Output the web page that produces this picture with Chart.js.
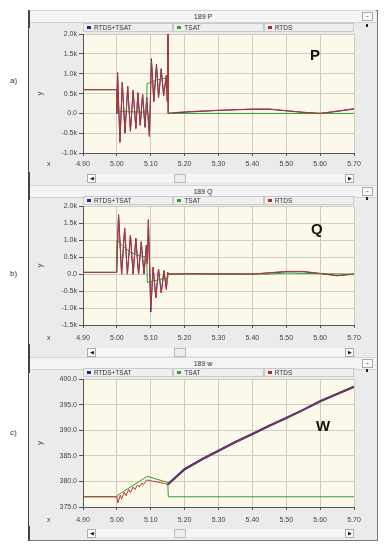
<!DOCTYPE html>
<html>
<head>
<meta charset="utf-8">
<script src="https://cdn.jsdelivr.net/npm/chart.js@4.4.0/dist/chart.umd.min.js"></script>
<style>
  body { margin: 0; width: 385px; height: 550px; background: #fff; position: relative; overflow: hidden;
         font-family: "Liberation Sans", Arial, sans-serif; }
  .abs { position: absolute; z-index: 2; }
  .frame { left: 28px; top: 10px; width: 347px; height: 529px; background: #ebebeb; z-index: 0;
           border: 1px solid #777; border-left: 2px solid #444; }
  .title { left: 30px; width: 346px; height: 11px; background: #f4f4f4; border-top: 1px solid #d6d6d6;
           border-bottom: 1px solid #d0d0d0; font-size: 7px; color: #333; text-align: center; line-height: 11px; }
  .minus { left: 362px; width: 9px; height: 7px; background: #fafafa; border: 1px solid #aaa;
           font-size: 7px; line-height: 6px; text-align: center; color: #222; }
  .legend { left: 83px; width: 271px; height: 9px; display: flex; }
  .legend div { flex: 1; border: 1px solid #c9c9c9; background: #efefef; font-size: 6.5px; line-height: 8px;
                color: #333; padding-left: 3px; white-space: nowrap; overflow: hidden; }
  .legend span { display: inline-block; width: 4px; height: 3px; margin-right: 3px; vertical-align: 1px; }
  .dot { left: 366px; width: 2px; height: 3px; background: #222; }
  canvas { position: absolute; left: 29px; z-index: 1; }
  .xl { left: 47px; font-size: 7px; color: #444; }
  .scroll { left: 86px; width: 268px; height: 8px; background: #f5f5f5; }
  .btn { width: 7px; height: 7px; background: #fff; border: 1px solid #aaa; font-size: 5px; line-height: 7px;
         text-align: center; color: #111; z-index: 3; }
  .thumb { width: 10px; height: 7px; background: #eee; border: 1px solid #bbb; z-index: 3; }
  .side { left: 10px; font-size: 8px; color: #333; }
  .big { font-size: 15px; font-weight: bold; color: #111; }
</style>
</head>
<body>
<div class="abs frame"></div>

<!-- panel a -->
<div class="abs title" style="top:10px">189 P</div>
<div class="abs minus" style="top:12px">-</div>
<div class="abs legend" style="top:23px">
  <div><span style="background:#20209a"></span><u>RTDS+TSAT</u></div>
  <div><span style="background:#2e9e2e"></span>TSAT</div>
  <div><span style="background:#b22a2a"></span>RTDS</div>
</div>
<div class="abs dot" style="top:24px"></div>
<canvas id="chartP" width="347" height="144" style="top:28px"></canvas>
<div class="abs xl" style="top:160px">x</div>
<div class="abs scroll" style="top:174px"></div>
<div class="abs btn" style="left:87px;top:174px">&#9664;</div>
<div class="abs thumb" style="left:174px;top:174px"></div>
<div class="abs btn" style="left:345px;top:174px">&#9654;</div>
<div class="abs side" style="top:76px">a)</div>
<div class="abs big" style="left:310px;top:46px">P</div>

<!-- panel b -->
<div class="abs title" style="top:185px">189 Q</div>
<div class="abs minus" style="top:187px">-</div>
<div class="abs legend" style="top:196px">
  <div><span style="background:#20209a"></span>RTDS+TSAT</div>
  <div><span style="background:#2e9e2e"></span>TSAT</div>
  <div><span style="background:#b22a2a"></span><u>RTDS</u></div>
</div>
<div class="abs dot" style="top:197px"></div>
<canvas id="chartQ" width="347" height="144" style="top:200px"></canvas>
<div class="abs xl" style="top:334px">x</div>
<div class="abs scroll" style="top:348px"></div>
<div class="abs btn" style="left:87px;top:348px">&#9664;</div>
<div class="abs thumb" style="left:174px;top:348px"></div>
<div class="abs btn" style="left:345px;top:348px">&#9654;</div>
<div class="abs side" style="top:269px">b)</div>
<div class="abs big" style="left:311px;top:220px">Q</div>

<!-- panel c -->
<div class="abs title" style="top:357px">189 w</div>
<div class="abs minus" style="top:359px">-</div>
<div class="abs legend" style="top:368px">
  <div><span style="background:#20209a"></span>RTDS+TSAT</div>
  <div><span style="background:#2e9e2e"></span>TSAT</div>
  <div><span style="background:#b22a2a"></span><u>RTDS</u></div>
</div>
<div class="abs dot" style="top:369px"></div>
<canvas id="chartW" width="347" height="153" style="top:373px"></canvas>
<div class="abs xl" style="top:516px">x</div>
<div class="abs scroll" style="top:529px"></div>
<div class="abs btn" style="left:87px;top:529px">&#9664;</div>
<div class="abs thumb" style="left:174px;top:529px"></div>
<div class="abs btn" style="left:345px;top:529px">&#9654;</div>
<div class="abs side" style="top:428px">c)</div>
<div class="abs big" style="left:316px;top:417px">W</div>

<script>
// ==== data (time in s) ====

// P: active power
const pRtdsT = [4.90, 4.999, 5.000, 5.002, 5.009, 5.016, 5.024, 5.032, 5.040, 5.048, 5.056, 5.062, 5.069, 5.076,
                5.083, 5.088, 5.096, 5.102, 5.109, 5.117, 5.123, 5.131, 5.138, 5.146, 5.149, 5.151, 5.152, 5.155,
                5.20, 5.30, 5.40, 5.45, 5.50, 5.55, 5.60, 5.65, 5.70];
const pRtds  = [600, 600, 0, 1030, -720, 780, -500, 680, -450, 580, -380, 520, -300, 480,
                -350, 400, -580, 1330, 300, 1200, 400, 1100, 450, 950, 300, 2100, 0, 10,
                40, 80, 110, 110, 70, 30, 0, 60, 120];
const pHyb   = [600, 600, 0, 1030, -730, 780, -500, 680, -450, 580, -380, 520, -300, 480,
                -350, 400, -580, 1380, 300, 1240, 400, 1130, 450, 960, 300, 2100, 0, 0,
                30, 75, 105, 105, 65, 25, 0, 50, 110];
const pTsatT = [4.90, 4.999, 5.000, 5.088, 5.089, 5.12, 5.150, 5.152, 5.70];
const pTsat  = [600, 600, 50, 30, 750, 850, 900, 0, 0];

// Q: reactive power
const qRtdsT = [4.90, 4.999, 5.000, 5.005, 5.014, 5.023, 5.031, 5.040, 5.048, 5.056, 5.064, 5.072, 5.080, 5.087,
                5.090, 5.093, 5.100, 5.107, 5.115, 5.123, 5.131, 5.139, 5.146, 5.150, 5.155,
                5.20, 5.40, 5.45, 5.50, 5.55, 5.60, 5.65, 5.70];
const qRtds  = [50, 50, 50, 1750, 0, 1350, 0, 1150, 0, 1050, 0, 950, 0, 850,
                300, 1600, -1000, 200, -700, 150, -550, 100, -450, 50, 0,
                10, 0, 40, 80, 80, 20, -50, 0];
const qHyb   = [50, 50, 50, 1750, 0, 1350, 0, 1150, 0, 1050, 0, 950, 0, 850,
                300, 1600, -1120, 200, -700, 150, -550, 100, -450, 50, 0,
                10, 0, 35, 70, 70, 15, -45, 0];
const qTsatT = [4.90, 4.999, 5.000, 5.02, 5.04, 5.06, 5.088, 5.090, 5.11, 5.13, 5.150, 5.152, 5.45, 5.50, 5.55, 5.70];
const qTsat  = [50, 50, 1000, 800, 650, 560, 500, -250, -200, -150, -120, 0, 0, 30, 20, 0];

// w: speed
const wRtdsT = [4.90, 5.000, 5.003, 5.010, 5.014, 5.022, 5.027, 5.035, 5.040, 5.048, 5.053, 5.061, 5.066, 5.074,
                5.079, 5.088, 5.100, 5.120, 5.140, 5.150, 5.20, 5.25, 5.30, 5.35, 5.40, 5.45, 5.50, 5.55,
                5.60, 5.65, 5.70];
const wRtds  = [377.0, 377.0, 375.8, 377.3, 376.6, 377.9, 377.2, 378.4, 377.8, 378.9, 378.4, 379.3, 378.9, 379.7,
                379.4, 380.3, 380.1, 379.9, 379.6, 379.4, 382.4, 384.3, 386.0, 387.7, 389.3, 390.9, 392.4, 394.0,
                395.7, 397.1, 398.5];
const wHybT  = [5.150, 5.20, 5.25, 5.30, 5.35, 5.40, 5.45, 5.50, 5.55, 5.60, 5.65, 5.70];
const wHyb   = [379.4, 382.4, 384.3, 386.0, 387.7, 389.3, 390.9, 392.4, 394.0, 395.7, 397.1, 398.5];
const wTsatT = [4.90, 5.000, 5.002, 5.090, 5.150, 5.152, 5.70];
const wTsat  = [377.0, 377.0, 377.3, 381.0, 379.8, 377.0, 377.0];

const xTicks = [4.90, 5.00, 5.10, 5.20, 5.30, 5.40, 5.50, 5.60, 5.70];

// ==== helpers ====
function pts(t, v) {
    return t.map(function(x, i) { return { x: x, y: v[i] }; });
}

function kLabel(value) {
    if (Math.abs(value) < 1e-6) return '0.0';
    return (value / 1000).toFixed(1) + 'k';
}

const plotBg = {
    id: 'plotBg',
    beforeDraw: function(chart) {
        const a = chart.chartArea;
        const ctx = chart.ctx;
        ctx.save();
        ctx.fillStyle = '#ebebeb';
        ctx.fillRect(0, 0, chart.width, chart.height);
        ctx.fillStyle = '#fdf9ea';
        ctx.fillRect(a.left, a.top, a.right - a.left, a.bottom - a.top);
        ctx.restore();
    }
};

function makeChart(id, sets, yMin, yMax, yStep, yFmt, padTop, xPad, hybWidth) {
    return new Chart(document.getElementById(id), {
        type: 'line',
        data: {
            datasets: [
                { label: 'RTDS', data: sets.rtds, borderColor: '#b3393a', borderWidth: 1, order: 0 },
                { label: 'TSAT', data: sets.tsat, borderColor: '#2e9e2e', borderWidth: 1, order: 1 },
                { label: 'RTDS+TSAT', data: sets.hyb, borderColor: '#1c1c80', borderWidth: hybWidth, order: 2 }
            ]
        },
        options: {
            responsive: false,
            animation: false,
            events: [],
            elements: { point: { radius: 0 }, line: { tension: 0 } },
            layout: { padding: { top: padTop, right: 22, left: 0, bottom: 0 } },
            plugins: { legend: { display: false }, tooltip: { enabled: false } },
            scales: {
                x: {
                    type: 'linear',
                    min: 4.9,
                    max: 5.7,
                    afterBuildTicks: function(axis) {
                        axis.ticks = xTicks.map(function(v) { return { value: v }; });
                    },
                    afterFit: function(axis) { axis.height = 19; },
                    grid: { color: '#cfcbbd', tickColor: '#555', tickLength: 3 },
                    border: { color: '#555' },
                    ticks: {
                        padding: xPad,
                        maxRotation: 0,
                        autoSkip: false,
                        color: '#444',
                        font: { size: 7, family: 'Liberation Sans' },
                        callback: function(value) { return Number(value).toFixed(2); }
                    }
                },
                y: {
                    min: yMin,
                    max: yMax,
                    afterFit: function(axis) { axis.width = 54; },
                    grid: { color: '#cfcbbd', tickColor: '#555', tickLength: 4 },
                    border: { color: '#555' },
                    title: {
                        display: true,
                        text: 'y',
                        color: '#444',
                        font: { size: 8, family: 'Liberation Sans' },
                        padding: { top: 6, bottom: 0 }
                    },
                    ticks: {
                        stepSize: yStep,
                        padding: 2,
                        color: '#444',
                        font: { size: 7, family: 'Liberation Sans' },
                        callback: yFmt
                    }
                }
            }
        },
        plugins: [plotBg]
    });
}

document.addEventListener('DOMContentLoaded', function() {
    makeChart('chartP', { rtds: pts(pRtdsT, pRtds), tsat: pts(pTsatT, pTsat), hyb: pts(pRtdsT, pHyb) },
              -1000, 2000, 500, kLabel, 5, 4, 1);
    makeChart('chartQ', { rtds: pts(qRtdsT, qRtds), tsat: pts(qTsatT, qTsat), hyb: pts(qRtdsT, qHyb) },
              -1500, 2000, 500, kLabel, 6, 6, 1);
    makeChart('chartW', { rtds: pts(wRtdsT, wRtds), tsat: pts(wTsatT, wTsat), hyb: pts(wHybT, wHyb) },
              375, 400, 5, function(v) { return Number(v).toFixed(1); }, 5, 6, 2.2);
});
</script>
</body>
</html>
